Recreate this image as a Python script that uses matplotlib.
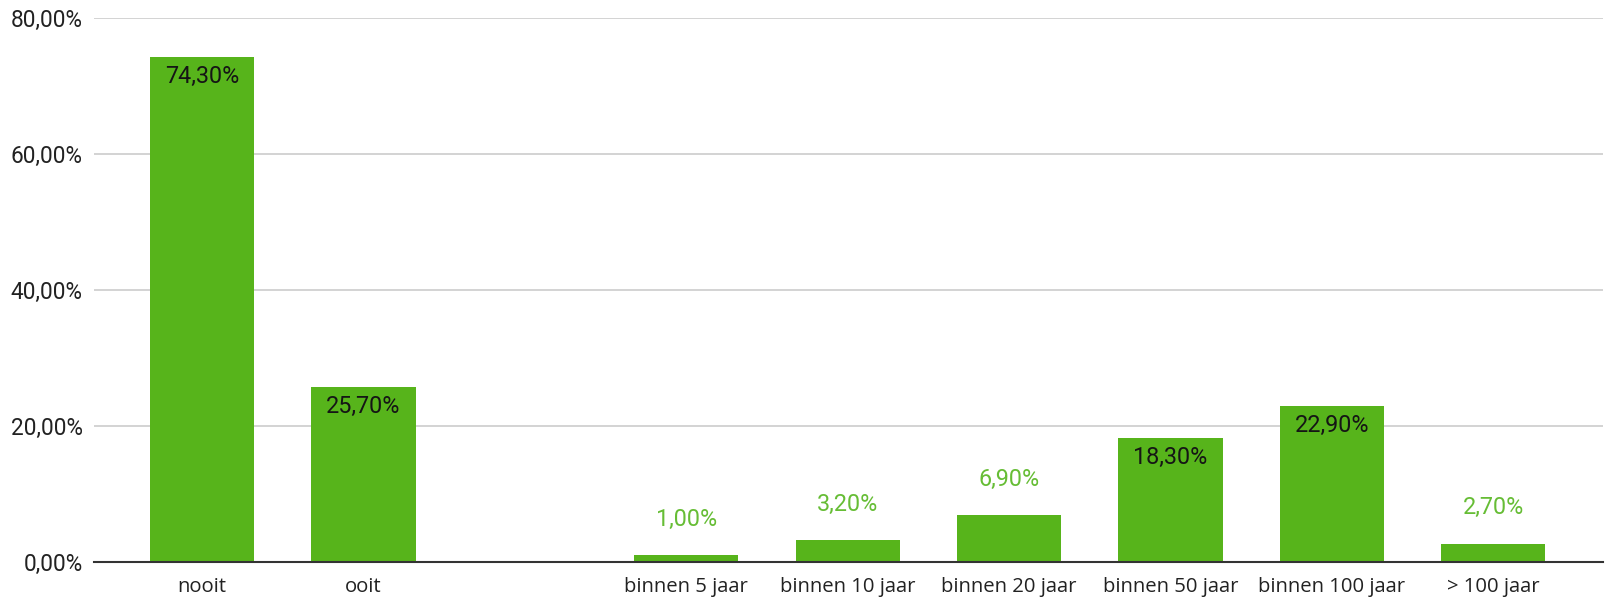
import numpy as np
import matplotlib.pyplot as plt
from matplotlib.ticker import FuncFormatter

plt.rcParams['font.family'] = ['Roboto', 'DejaVu Sans']

# Data (percentages); empty slot separates the two groups
categories = ['nooit', 'ooit', '', 'binnen 5 jaar', 'binnen 10 jaar', 'binnen 20 jaar',
              'binnen 50 jaar', 'binnen 100 jaar', '> 100 jaar']
values = [74.3, 25.7, None, 1.0, 3.2, 6.9, 18.3, 22.9, 2.7]
yticks = [0, 20, 40, 60, 80]

bar_color = '#57b41b'
label_out_color = '#66bd35'
label_in_color = '#151515'

fig = plt.figure(figsize=(16.08, 5.97), dpi=100)
ax = fig.add_axes([94 / 1608, 35 / 597, 1509 / 1608, 544 / 597])

x = np.arange(len(categories))
heights = [v if v is not None else 0 for v in values]
bars = ax.bar(x, heights, width=0.645, color=bar_color, zorder=3)

# Value labels: inside for tall bars, above for short ones
for xi, v in zip(x, values):
    if v is None:
        continue
    txt = f"{v:.2f}".replace('.', ',') + '%'
    if v > 10:
        ax.annotate(txt, (xi, v), xytext=(0, -14), textcoords='offset points',
                    ha='center', va='center', fontsize=16.8, color=label_in_color, zorder=4)
    else:
        ax.annotate(txt, (xi, v), xytext=(0, 26), textcoords='offset points',
                    ha='center', va='center', fontsize=16.8, color=label_out_color, zorder=4)

ax.set_xlim(-0.67, len(categories) - 1 + 0.68)
ax.set_ylim(0, 80)
ax.set_yticks(yticks)
ax.yaxis.set_major_formatter(FuncFormatter(lambda v, p: f"{v:.2f}".replace('.', ',') + '%'))
ax.set_xticks(x)
ax.set_xticklabels(categories, family=['Open Sans', 'DejaVu Sans'])

ax.tick_params(axis='y', length=0, pad=8, labelsize=16.3, labelcolor='#222222')
ax.tick_params(axis='x', length=0, pad=11, labelsize=14.6, labelcolor='#222222')

ax.grid(axis='y', color='#cccccc', linewidth=1.2, zorder=0)
ax.set_axisbelow(True)
for side in ['left', 'right', 'top']:
    ax.spines[side].set_visible(False)
ax.spines['bottom'].set_color('#333333')
ax.spines['bottom'].set_linewidth(1.5)
ax.spines['bottom'].set_zorder(5)

fig.savefig('out.png', dpi=100)
